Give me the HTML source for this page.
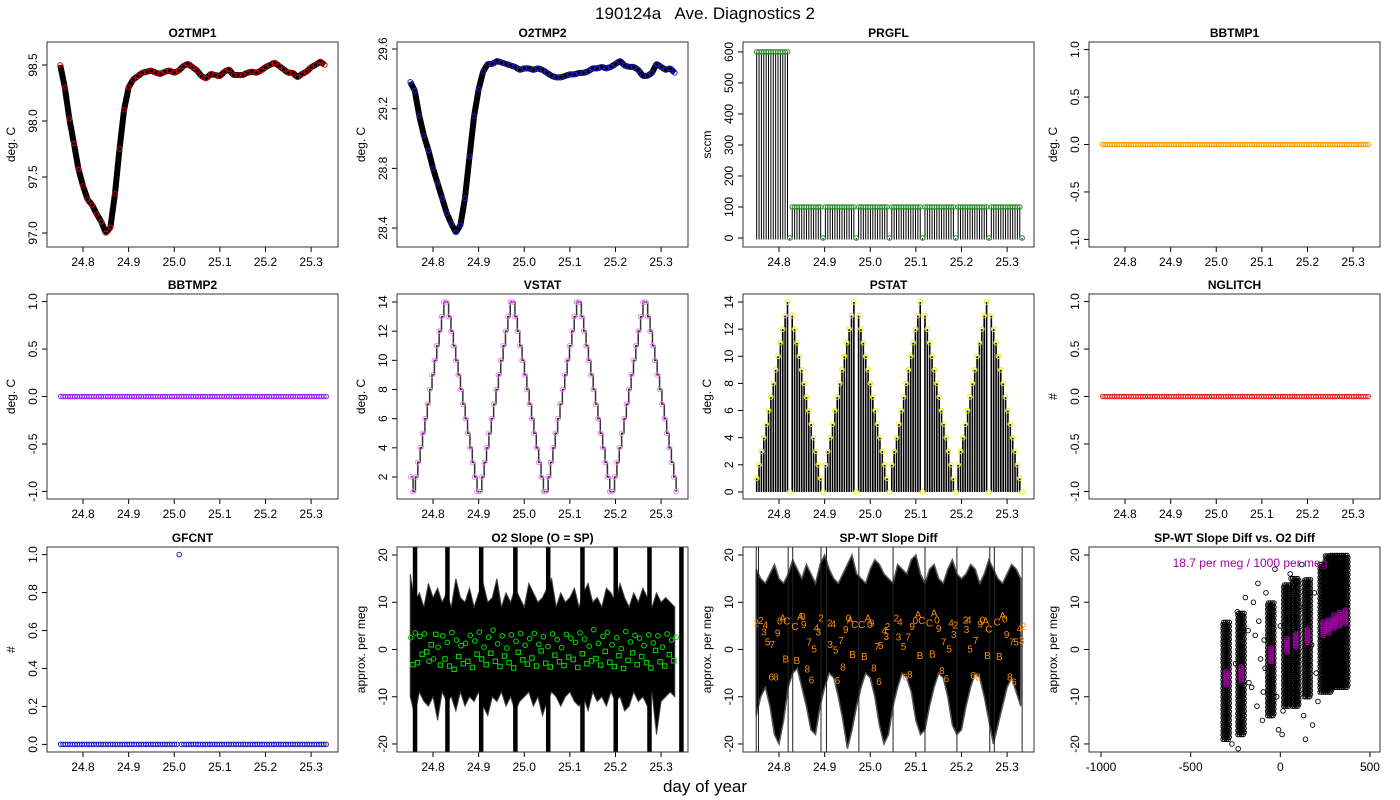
<!DOCTYPE html>
<html><head><meta charset="utf-8">
<style>
html,body{margin:0;padding:0;background:#fff;}
svg{display:block;font-family:"Liberation Sans",sans-serif;}
</style></head>
<body>
<svg id="chart" width="1400" height="800" viewBox="0 0 1400 800" xmlns="http://www.w3.org/2000/svg">
<text x="705" y="19" text-anchor="middle" font-size="17" style="white-space:pre" xml:space="preserve">190124a   Ave. Diagnostics 2</text>
<text x="705" y="792" text-anchor="middle" font-size="17">day of year</text>
</svg>
<script>
// ---- data ----
const tStart = 24.751, tEnd = 25.333;
const dayTicks = [24.8, 24.9, 25.0, 25.1, 25.2, 25.3];
const dayTickLabels = ["24.8","24.9","25.0","25.1","25.2","25.3"];
const o2tmp1 = [98.5,98.3,98.02,97.8,97.57,97.42,97.3,97.25,97.17,97.1,97.0,97.05,97.35,97.75,98.1,98.3,98.37,98.4,98.43,98.44,98.45,98.43,98.42,98.44,98.45,98.43,98.45,98.49,98.51,98.48,98.45,98.4,98.38,98.42,98.41,98.4,98.44,98.46,98.41,98.41,98.41,98.43,98.44,98.43,98.45,98.48,98.5,98.52,98.49,98.46,98.43,98.43,98.39,98.42,98.44,98.48,98.5,98.53,98.5];
const o2tmp2 = [29.38,29.32,29.15,29.02,28.92,28.8,28.7,28.6,28.5,28.43,28.37,28.42,28.6,28.88,29.15,29.33,29.45,29.5,29.5,29.52,29.51,29.5,29.49,29.48,29.46,29.47,29.47,29.46,29.47,29.46,29.44,29.42,29.41,29.41,29.42,29.43,29.43,29.44,29.44,29.45,29.47,29.47,29.48,29.47,29.48,29.5,29.52,29.49,29.48,29.48,29.46,29.42,29.42,29.44,29.5,29.48,29.46,29.47,29.44];
const prgfl = [600,600,600,600,600,600,600,600,600,600,600,600,600,600,0,
 100,100,100,100,100,100,100,100,100,100,100,100,100,0,
 100,100,100,100,100,100,100,100,100,100,100,100,100,0,
 100,100,100,100,100,100,100,100,100,100,100,100,100,0,
 100,100,100,100,100,100,100,100,100,100,100,100,100,0,
 100,100,100,100,100,100,100,100,100,100,100,100,100,0,
 100,100,100,100,100,100,100,100,100,100,100,100,100,0,
 100,100,100,100,100,100,100,100,100,100,100,100,100,0];
const bbtmp1 = [0,0,0,0,0,0,0,0,0,0,0,0,0,0,0,0,0,0,0,0,0,0,0,0,0,0,0,0,0,0,0,0,0,0,0,0,0,0,0,0,0,0,0,0,0,0,0,0,0,0,0,0,0,0,0,0,0,0,0,0,0,0,0,0,0,0,0,0,0,0,0,0,0,0,0,0,0,0,0,0,0,0,0,0,0,0,0,0,0,0,0,0,0,0,0,0,0,0,0,0,0,0,0,0,0,0,0,0,0,0,0,0,0];
const bbtmp2 = [0,0,0,0,0,0,0,0,0,0,0,0,0,0,0,0,0,0,0,0,0,0,0,0,0,0,0,0,0,0,0,0,0,0,0,0,0,0,0,0,0,0,0,0,0,0,0,0,0,0,0,0,0,0,0,0,0,0,0,0,0,0,0,0,0,0,0,0,0,0,0,0,0,0,0,0,0,0,0,0,0,0,0,0,0,0,0,0,0,0,0,0,0,0,0,0,0,0,0,0,0,0,0,0,0,0,0,0,0,0,0,0,0];
const nglitch = [0,0,0,0,0,0,0,0,0,0,0,0,0,0,0,0,0,0,0,0,0,0,0,0,0,0,0,0,0,0,0,0,0,0,0,0,0,0,0,0,0,0,0,0,0,0,0,0,0,0,0,0,0,0,0,0,0,0,0,0,0,0,0,0,0,0,0,0,0,0,0,0,0,0,0,0,0,0,0,0,0,0,0,0,0,0,0,0,0,0,0,0,0,0,0,0,0,0,0,0,0,0,0,0,0,0,0,0,0,0,0,0,0];
const vstat = [2,1,
 2,3,4,5,6,7,8,9,10,11,12,13,14,14,13,12,11,10,9,8,7,6,5,4,3,2,1,1,
 2,3,4,5,6,7,8,9,10,11,12,13,14,14,13,12,11,10,9,8,7,6,5,4,3,2,1,1,
 2,3,4,5,6,7,8,9,10,11,12,13,14,14,13,12,11,10,9,8,7,6,5,4,3,2,1,1,
 2,3,4,5,6,7,8,9,10,11,12,13,14,14,13,12,11,10,9,8,7,6,5,4,3,2,1];
const pstat = [1,2,3,4,5,6,7,8,9,10,11,12,13,14,0,13,12,11,10,9,8,7,6,5,4,3,2,1,0,
 2,3,4,5,6,7,8,9,10,11,12,13,14,0,13,12,11,10,9,8,7,6,5,4,3,2,1,0,
 2,3,4,5,6,7,8,9,10,11,12,13,14,0,13,12,11,10,9,8,7,6,5,4,3,2,1,0,
 2,3,4,5,6,7,8,9,10,11,12,13,14,0,13,12,11,10,9,8,7,6,5,4,3,2,1,0];
const gfcnt = [0,0,0,0,0,0,0,0,0,0,0,0,0,0,0,0,0,0,0,0,0,0,0,0,0,0,0,0,0,0,0,0,0,0,0,0,0,0,0,0,0,0,0,0,0,0,0,0,0,0,1,0,0,0,0,0,0,0,0,0,0,0,0,0,0,0,0,0,0,0,0,0,0,0,0,0,0,0,0,0,0,0,0,0,0,0,0,0,0,0,0,0,0,0,0,0,0,0,0,0,0,0,0,0,0,0,0,0,0,0,0,0,0];
const slopeUpper = [16,10,12,9,14,11,13,10,12,9,15,11,10,13,9,12,14,10,11,15,9,12,10,13,11,9,14,12,10,11,13,15,9,12,10,11,13,9,12,14,10,11,9,13,12,10,14,11,9,12,10,13,11,9,12,10,11,10,9];
const slopeLower = [-10,-14,-9,-11,-12,-10,-15,-9,-11,-10,-13,-9,-12,-10,-11,-9,-12,-14,-10,-11,-9,-12,-10,-13,-11,-10,-9,-12,-10,-14,-11,-9,-10,-12,-10,-9,-11,-12,-10,-13,-9,-11,-10,-12,-9,-11,-10,-13,-12,-9,-11,-10,-12,-9,-18,-11,-10,-9,-10];
const slopeBars = [24.76,24.831,24.905,24.98,25.052,25.127,25.2,25.274,25.344];
const slopeGreen = [2.5,-3.2,3.5,-2.8,2.8,-1,3.3,-0.5,-2.5,1,-2,3.2,0.5,-3.3,2.9,-2,1.5,-3.5,3.6,-4.2,2,-1.5,0.8,-3,1.3,-2.5,3,-3.8,1.8,-1,3.7,-2,0.5,-3.2,2.6,-0.8,4.1,-2.5,1.2,-3.6,2.9,-1.4,0.3,-2.8,3.1,-3.9,1.7,-0.6,3.4,-2.2,0.9,-3.1,2.3,-1.8,3.4,-3.5,1.1,-0.3,2.7,-2.9,0.6,-3.7,3.3,-1.2,2.1,-2.6,0.4,-3.4,3.2,-1.6,2.4,-2.1,1.5,-3.8,3.5,-0.9,2.2,-3,0.7,-2.4,4.2,-1.9,1.3,-3.3,2.8,-0.4,3.6,-2.7,1,-3.6,2.5,-1.3,0.2,-4,3.8,-2.3,1.6,-0.7,3,-3.2,2.4,-1.5,0.8,-2.8,3.1,-3.9,1.4,-0.2,2.9,-2.6,0.5,-3.5,3.3,-1.1,2,-2.4,2.6];
const spwtUpper = [17,15,14,16,18,15,14,16,19,17,15,18,16,14,18,20,17,15,14,16,18,20,16,15,14,17,19,18,16,15,14,18,17,16,19,20,16,14,17,18,15,14,17,19,16,15,16,18,17,14,16,19,17,15,14,16,18,17,15];
const spwtLower = [-14,-10,-8,-12,-18,-20,-15,-8,-5,-4,-8,-12,-17,-18,-12,-8,-5,-6,-10,-15,-21,-17,-12,-8,-5,-6,-10,-16,-20,-18,-12,-8,-5,-6,-9,-15,-18,-17,-12,-8,-5,-6,-10,-16,-18,-17,-12,-8,-5,-6,-10,-15,-20,-16,-12,-8,-6,-9,-12];
const spwtVLines = [24.750,24.755,24.820,24.830,24.892,24.904,24.975,25.05,25.12,25.19,25.262,25.272,25.333];
const labChars = ['2','2','4','3','5','7','6','8','9','0','A','C','B','C','B','A','0','9','8','7','6','5','4','3','2','2','4','3','5','7','6','8','9','0','A','C','B','C','B','A','0','9','8','7','6','5','4','3','2','2','4','3','5','7','6','8','9','0','A','C','B','C','B','A','0','9','8','7','6','5','4','2','3','2','4','3','5','7','6','8','9','0','A','C','B','C','B','A','0','9','8','7','6','5','4','3','2'];
const labDay = [24.750,24.760,24.770,24.767,24.775,24.785,24.783,24.793,24.797,24.802,24.808,24.817,24.815,24.835,24.839,24.847,24.852,24.854,24.862,24.866,24.871,24.877,24.882,24.886,24.892,24.911,24.919,24.912,24.924,24.936,24.928,24.940,24.946,24.952,24.956,24.966,24.961,24.981,24.987,24.995,24.999,25.003,25.008,25.015,25.019,25.023,25.031,25.035,25.038,25.057,25.065,25.062,25.073,25.083,25.077,25.087,25.092,25.099,25.105,25.113,25.109,25.130,25.136,25.140,25.146,25.150,25.157,25.161,25.167,25.173,25.177,25.187,25.183,25.209,25.216,25.211,25.219,25.231,25.225,25.236,25.241,25.246,25.253,25.260,25.257,25.278,25.283,25.290,25.295,25.299,25.306,25.310,25.315,25.320,25.327,25.332,25.336];
const labVal = [5.7,6.2,5.3,3.8,1.7,1.2,-5.7,-5.7,3.6,6.1,6.8,6.1,-1.9,5.0,-2.2,7.1,7.1,5.4,-4.0,1.7,-6.3,0.2,4.7,3.8,6.8,5.7,5.5,1.2,0.0,2.0,-6.5,-3.6,4.3,6.8,6.4,5.4,-1.0,5.4,-1.4,6.8,5.4,5.7,-3.8,0.7,-6.7,1.0,4.1,2.9,5.0,6.8,5.9,2.7,0.7,2.7,-5.7,-5.2,5.0,6.2,7.5,6.2,-1.2,5.7,-0.8,7.8,6.4,4.6,-4.3,1.7,-6.0,0.2,5.7,5.3,3.3,6.4,6.4,4.3,0.2,2.0,-5.4,-5.7,5.5,6.4,6.1,4.4,-1.2,5.9,-1.4,7.3,6.6,3.3,-5.7,1.7,-6.8,1.7,4.6,2.0,5.0];
const clusterX = [-301,-218,-52,37,87,152,240,270,300,330,361];
const clusterLo = [-19,-18,-14,-12,-12,-10,-9,-9,-8,-8,-8];
const clusterHi = [6,8,10,14,15,15,18,20,20,20,20];
const clusterMean = [-6,-5,-1,1,2,3,4.5,5,6,6.5,7];
const sparseX = [-250,-240,-180,-160,-150,-130,-120,-100,-90,-80,-70,-30,-20,0,10,20,60,70,120,130,180,190,200,-270,-140,-110,-60,15,110,210,-195,-175,-85,-10,55,140,175,-235,-125,-95];
const sparseY = [-3,8,4,-8,10,-12,6,-15,2,12,-6,17,-10,5,-18,-3,15,-9,18,-14,-16,12,-5,-20,3,-2,7,-13,9,-11,11,-7,-4,-17,16,-19,1,-21,14,-9];
const scatterXTicks = [-1000,-500,0,500];

// ---- drawing ----
const NS = "http://www.w3.org/2000/svg";
const svg = document.getElementById('chart');
const colLeft = [47, 397, 743, 1089];
const rowTop = [42, 294, 547];
const W = 291, H = 205;
function mk(tag, attrs, parent){ const e=document.createElementNS(NS,tag); for(const k in attrs) e.setAttribute(k,attrs[k]); (parent||svg).appendChild(e); return e; }
function timeOf(i,n){ return tStart + (tEnd-tStart)*i/(n-1); }

function panel(name, col, row, title, ylab, xd, yd, xt, xtl, yt, ytl){
  const g = mk('g',{});
  
  
  const L=colLeft[col], T=rowTop[row];
  const sx = v => L + (v-xd[0])/(xd[1]-xd[0])*W;
  const sy = v => T + H - (v-yd[0])/(yd[1]-yd[0])*H;
  const t = mk('text',{x:L+W/2, y:T-5, 'text-anchor':'middle','font-size':12,'font-weight':'bold'},g);
  t.textContent = title;
  
  
  const yl = mk('text',{x:0,y:0,transform:`translate(${L-32},${T+H/2}) rotate(-90)`,'text-anchor':'middle','font-size':12},g);
  yl.textContent = ylab;
  
  
  xt.forEach((v,i)=>{
    const x=sx(v);
    mk('line',{x1:x,x2:x,y1:T+H,y2:T+H+5,stroke:'#000'},g);
    const tx=mk('text',{x:x,y:T+H+19,'text-anchor':'middle','font-size':12},g);
    tx.textContent=xtl[i];
    
    
  });
  yt.forEach((v,i)=>{
    const y=sy(v);
    mk('line',{x1:L-5,x2:L,y1:y,y2:y,stroke:'#000'},g);
    const ty=mk('text',{x:0,y:0,transform:`translate(${L-10},${y}) rotate(-90)`,'text-anchor':'middle','font-size':12},g);
    ty.textContent=ytl[i];
    
    
  });
  const clipId='clip'+col+row;
  const cp=mk('clipPath',{id:clipId},g); mk('rect',{x:L,y:T,width:W,height:H},cp);
  const plot=mk('g',{'clip-path':`url(#${clipId})`},g);
  const box=mk('rect',{x:L,y:T,width:W,height:H,fill:'none',stroke:'#333','stroke-width':1},g);
  
  
  return {sx,sy,plot,g};
}
const XD=[24.721,25.359];
function circles(p, xs, ys, color, name, r){
  xs.forEach((x,i)=>{
    const c=mk('circle',{cx:p.sx(x),cy:p.sy(ys[i]),r:r||2.3,fill:'none',stroke:color,'stroke-width':1},p.plot);
    
    
  });
}
function timeArr(arr){ return arr.map((_,i)=>timeOf(i,arr.length)); }
function dayArr01(arr){ return arr.map((_,i)=>24.75+0.01*i); }

// O2TMP1
(function(){
  const p=panel('o2tmp1',0,0,'O2TMP1','deg. C',XD,[96.875,98.705],dayTicks,dayTickLabels,[97,97.5,98,98.5],["97.0","97.5","98.0","98.5"]);
  const xs=dayArr01(o2tmp1);
  const ln=mk('polyline',{points:xs.map((x,i)=>p.sx(x)+','+p.sy(o2tmp1[i])).join(' '),fill:'none',stroke:'#000','stroke-width':6,'stroke-linejoin':'bevel'},p.plot);
  
  
  circles(p,xs,o2tmp1,'#e00000','o2tmp1-point');
})();
// O2TMP2
(function(){
  const p=panel('o2tmp2',1,0,'O2TMP2','deg. C',XD,[28.273,29.647],dayTicks,dayTickLabels,[28.4,28.8,29.2,29.6],["28.4","28.8","29.2","29.6"]);
  const xs=dayArr01(o2tmp2);
  const ln=mk('polyline',{points:xs.map((x,i)=>p.sx(x)+','+p.sy(o2tmp2[i])).join(' '),fill:'none',stroke:'#000','stroke-width':6,'stroke-linejoin':'bevel'},p.plot);
  
  
  circles(p,xs,o2tmp2,'#2020e0','o2tmp2-point');
})();
// PRGFL
(function(){
  const p=panel('prgfl',2,0,'PRGFL','sccm',XD,[-29,632],dayTicks,dayTickLabels,[0,100,200,300,400,500,600],["0","100","200","300","400","500","600"]);
  const xs=timeArr(prgfl);
  xs.forEach((x,i)=>{ const l=mk('line',{x1:p.sx(x),x2:p.sx(x),y1:p.sy(-5),y2:p.sy(prgfl[i]),stroke:'#000','stroke-width':1},p.plot);
      });
  circles(p,xs,prgfl,'#2a8a2a','prgfl-point');
})();
// BBTMP1
(function(){
  const p=panel('bbtmp1',3,0,'BBTMP1','deg. C',XD,[-1.08,1.08],dayTicks,dayTickLabels,[-1,-0.5,0,0.5,1],["-1.0","-0.5","0.0","0.5","1.0"]);
  circles(p,timeArr(bbtmp1),bbtmp1,'#ff9900','bbtmp1-point');
})();
// BBTMP2
(function(){
  const p=panel('bbtmp2',0,1,'BBTMP2','deg. C',XD,[-1.08,1.08],dayTicks,dayTickLabels,[-1,-0.5,0,0.5,1],["-1.0","-0.5","0.0","0.5","1.0"]);
  circles(p,timeArr(bbtmp2),bbtmp2,'#a020f0','bbtmp2-point');
})();
// VSTAT
(function(){
  const p=panel('vstat',1,1,'VSTAT','deg. C',XD,[0.49,14.55],dayTicks,dayTickLabels,[2,4,6,8,10,12,14],["2","4","6","8","10","12","14"]);
  const xs=timeArr(vstat);
  let pts=[];
  xs.forEach((x,i)=>{ if(i>0) pts.push(p.sx(x)+','+p.sy(vstat[i-1])); pts.push(p.sx(x)+','+p.sy(vstat[i])); });
  const ln=mk('polyline',{points:pts.join(' '),fill:'none',stroke:'#333','stroke-width':1.5},p.plot);
   
  circles(p,xs,vstat,'#ee82ee','vstat-point');
})();
// PSTAT
(function(){
  const p=panel('pstat',2,1,'PSTAT','deg. C',XD,[-0.52,14.59],dayTicks,dayTickLabels,[0,2,4,6,8,10,12,14],["0","2","4","6","8","10","12","14"]);
  const xs=timeArr(pstat);
  xs.forEach((x,i)=>{ const l=mk('line',{x1:p.sx(x),x2:p.sx(x),y1:p.sy(0),y2:p.sy(pstat[i]),stroke:'#000','stroke-width':1.6},p.plot);
      });
  circles(p,xs,pstat,'#eeee00','pstat-point');
})();
// NGLITCH
(function(){
  const p=panel('nglitch',3,1,'NGLITCH','#',XD,[-1.08,1.08],dayTicks,dayTickLabels,[-1,-0.5,0,0.5,1],["-1.0","-0.5","0.0","0.5","1.0"]);
  circles(p,timeArr(nglitch),nglitch,'#e02020','nglitch-point');
})();
// GFCNT
(function(){
  const p=panel('gfcnt',0,2,'GFCNT','#',XD,[-0.04,1.04],dayTicks,dayTickLabels,[0,0.2,0.4,0.6,0.8,1],["0.0","0.2","0.4","0.6","0.8","1.0"]);
  circles(p,timeArr(gfcnt),gfcnt,'#2020c0','gfcnt-point');
})();
// O2 Slope
(function(){
  const p=panel('o2-slope',1,2,'O2 Slope (O = SP)','approx. per meg',XD,[-21.7,21.7],dayTicks,dayTickLabels,[-20,-10,0,10,20],["-20","-10","0","10","20"]);
  const xs=dayArr01(slopeUpper);
  const pts=xs.map((x,i)=>p.sx(x)+','+p.sy(slopeUpper[i])).concat(xs.map((x,i)=>p.sx(x)+','+p.sy(slopeLower[i])).reverse());
  const poly=mk('polygon',{points:pts.join(' '),fill:'#000',stroke:'#444','stroke-width':1},p.plot);
   
  slopeBars.forEach(b=>{ const r=mk('rect',{x:p.sx(b)-2,y:p.sy(21.7),width:4.5,height:H,fill:'#000'},p.plot);
      });
  const gx=timeArr(slopeGreen);
  gx.forEach((x,i)=>{
    const el = i%2 ? mk('rect',{x:p.sx(x)-2.2,y:p.sy(slopeGreen[i])-2.2,width:4.4,height:4.4,fill:'none',stroke:'#00dd00'},p.plot)
                   : mk('circle',{cx:p.sx(x),cy:p.sy(slopeGreen[i]),r:2.3,fill:'none',stroke:'#00dd00'},p.plot);
     
  });
})();
// SP-WT Slope Diff
(function(){
  const p=panel('spwt-slope-diff',2,2,'SP-WT Slope Diff','approx. per meg',XD,[-21.7,21.7],dayTicks,dayTickLabels,[-20,-10,0,10,20],["-20","-10","0","10","20"]);
  const xs=dayArr01(spwtUpper);
  const pts=xs.map((x,i)=>p.sx(x)+','+p.sy(spwtUpper[i])).concat(xs.map((x,i)=>p.sx(x)+','+p.sy(spwtLower[i])).reverse());
  const poly=mk('polygon',{points:pts.join(' '),fill:'#000',stroke:'#555','stroke-width':1.5},p.plot);
   
  spwtVLines.forEach(v=>{ const l=mk('line',{x1:p.sx(v),x2:p.sx(v),y1:p.sy(21.7),y2:p.sy(-21.7),stroke:'#222','stroke-width':1},p.plot);
      });
  labChars.forEach((c,i)=>{ const t=mk('text',{x:p.sx(labDay[i]),y:p.sy(labVal[i])+4,'text-anchor':'middle','font-size':10,fill:'#ff8c00'},p.plot);
    t.textContent=c;   });
})();
// Scatter
(function(){
  const p=panel('spwt-vs-o2diff',3,2,'SP-WT Slope Diff vs. O2 Diff','approx. per meg',[-1067,556],[-21.7,21.7],scatterXTicks,["-1000","-500","0","500"],[-20,-10,0,10,20],["-20","-10","0","10","20"]);
  clusterX.forEach((cx,k)=>{
    let j=0;
    for(let v=clusterLo[k]; v<=clusterHi[k]; v+=0.45){
      const offs = (j++%2) ? [-14,-4,6,16] : [-18,-9,1,11];
      offs.forEach(o=>{ const c=mk('circle',{cx:p.sx(cx+o),cy:p.sy(v),r:2.3,fill:'none',stroke:'#000','stroke-width':0.9},p.plot);
          });
    }
  });
  sparseX.forEach((x,i)=>{ const c=mk('circle',{cx:p.sx(x),cy:p.sy(sparseY[i]),r:2.3,fill:'none',stroke:'#000','stroke-width':0.9},p.plot);
      });
  clusterX.forEach((cx,k)=>{
    for(let v=clusterMean[k]-1.5; v<=clusterMean[k]+1.5; v+=0.4){
      const c=mk('circle',{cx:p.sx(cx),cy:p.sy(v),r:2.2,fill:'none',stroke:'#a000a0','stroke-width':1.2},p.plot);
       
    }
  });
  const t=mk('text',{x:1250,y:567,'text-anchor':'middle','font-size':12,fill:'#a000a0'},p.g);
  t.textContent='18.7 per meg / 1000 per meg';
   
})();
</script>
</body></html>
